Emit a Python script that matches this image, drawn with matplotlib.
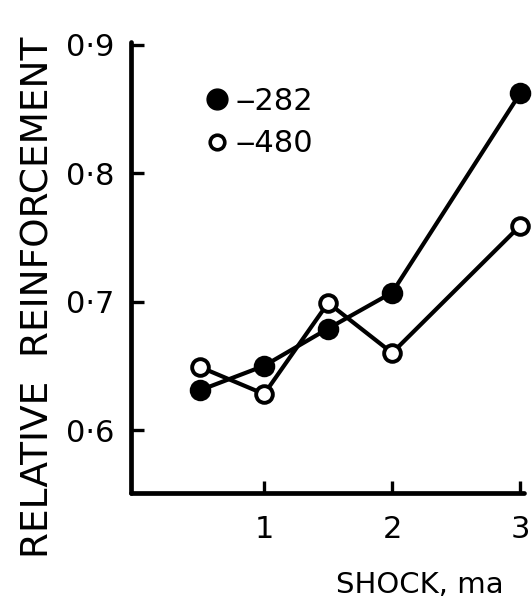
import matplotlib
matplotlib.use("Agg")
import matplotlib.pyplot as plt
from matplotlib.lines import Line2D

shock = [0.5, 1.0, 1.5, 2.0, 3.0]
rat_282 = [0.631, 0.650, 0.679, 0.707, 0.862]
rat_480 = [0.649, 0.628, 0.699, 0.660, 0.759]
xticks = [1, 2, 3]
xtick_labels = ["1", "2", "3"]
yticks = [0.6, 0.7, 0.8, 0.9]
ytick_labels = ["0·6", "0·7", "0·8", "0·9"]

plt.rcParams['font.family'] = ['DejaVu Sans']

fig = plt.figure(figsize=(5.32, 6.04), dpi=100)
ax = fig.add_axes([131/532, 1 - 493/604, (524-131)/532, (493-42)/604])

lw = 3.0
ax.plot(shock, rat_282, color='black', lw=lw, marker='o', ms=14,
        mfc='black', mec='black', mew=1.5, zorder=3, clip_on=False)
ax.plot(shock, rat_480, color='black', lw=lw, marker='o', ms=12,
        mfc='white', mec='black', mew=2.8, zorder=4, clip_on=False)

ax.set_xlim(-0.04, 3.03)
ax.set_ylim(0.551, 0.902)
ax.set_xticks(xticks)
ax.set_xticklabels(xtick_labels)
ax.set_yticks(yticks)
ax.set_yticklabels(ytick_labels)

for s in ['top', 'right']:
    ax.spines[s].set_visible(False)
for s in ['left', 'bottom']:
    ax.spines[s].set_linewidth(3.4)
    ax.spines[s].set_capstyle('round')

ax.tick_params(axis='both', direction='in', length=9, width=2.4,
               labelsize=22, colors='black')
ax.tick_params(axis='y', pad=12)
ax.tick_params(axis='x', pad=16)

ax.set_xlabel("SHOCK, ma", fontsize=21)
ax.xaxis.set_label_coords(0.735, -0.172)
ax.set_ylabel("RELATIVE  REINFORCEMENT", fontsize=27)
ax.yaxis.set_label_coords(-0.19, 0.435)

handles = [
    Line2D([], [], ls='none', marker='o', ms=15, mfc='black', mec='black'),
    Line2D([], [], ls='none', marker='o', ms=10.5, mfc='white', mec='black', mew=2.6),
]
ax.legend(handles, ["‒282", "‒480"], loc='upper left',
          bbox_to_anchor=(0.165, 0.928), frameon=False, fontsize=22,
          handlelength=0.6, handletextpad=0.3, labelspacing=0.45,
          borderaxespad=0)

fig.savefig("out.png", dpi=100, facecolor='white')
